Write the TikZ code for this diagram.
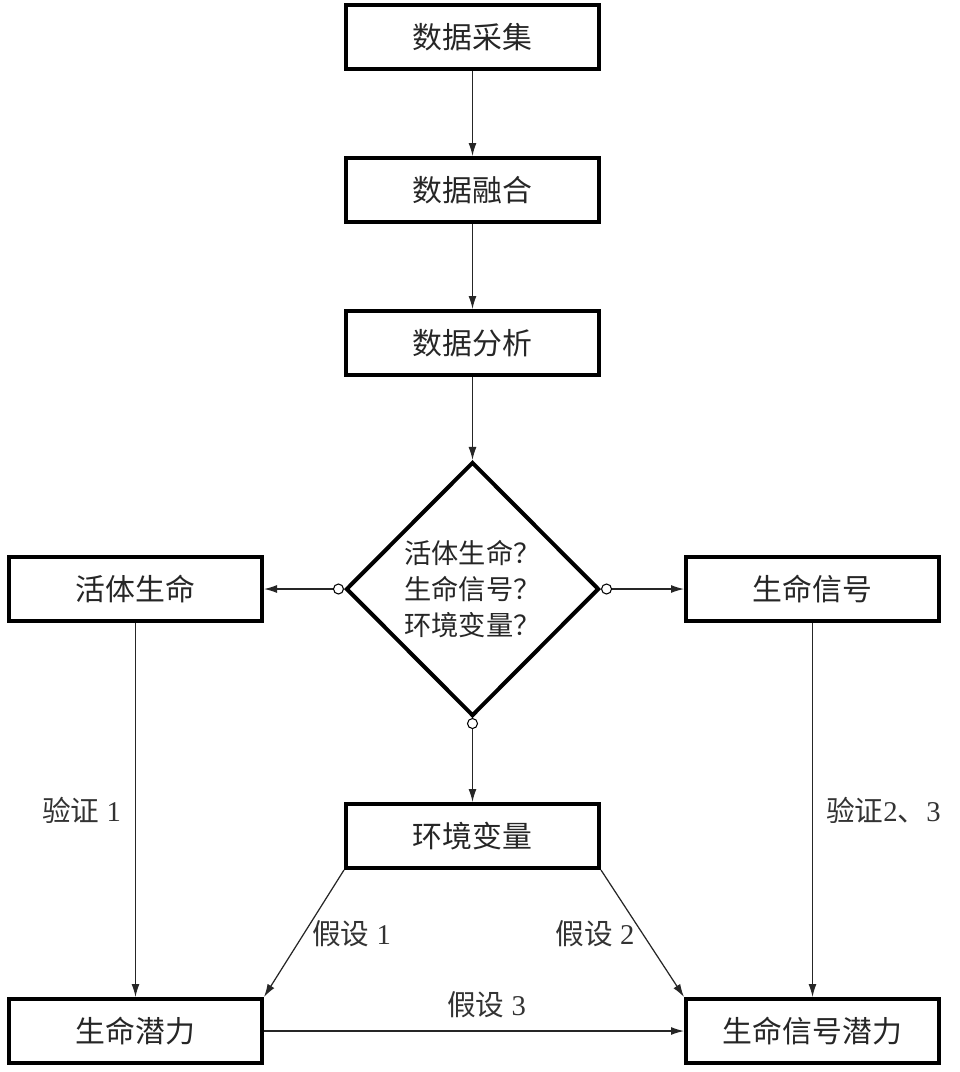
\documentclass[tikz,border=0pt]{standalone}
\usepackage{fontspec}
\setmainfont{Liberation Serif}
\newfontfamily\cjk{Noto Sans CJK SC}
\usetikzlibrary{arrows.meta,positioning,shapes.geometric}

\begin{document}
\begin{tikzpicture}[
  box/.style={draw, line width=0.08cm, minimum width=5.06cm, minimum height=1.28cm, align=center, text=black!85, font=\cjk\fontsize{17}{20}\selectfont},
  test/.style={draw, diamond, aspect=1, line width=0.08cm, minimum width=5.06cm, minimum height=5.08cm, inner sep=0pt, align=center, text=black!85, font=\cjk\fontsize{15.5}{20.5}\selectfont},
  port/.style={draw, circle, fill=white, line width=0.6pt, minimum size=0.2cm, inner sep=0pt},
  arrow/.style={-{Latex[length=0.26cm,width=0.16cm]}, line width=0.7pt, black!85},
  lbl/.style={inner sep=0pt, text=black!80, font=\fontsize{16.3}{18}\selectfont}
]
\useasboundingbox (0,0) rectangle (19.2,-21.44);
\node[box] (collect) at (9.45,-0.74) {数据采集};
\node[box, below=1.7cm of collect] (fuse) {数据融合};
\node[box, below=1.7cm of fuse] (analyse) {数据分析};
\node[test, below=1.66cm of analyse] (dia) {活体生命？\\生命信号？\\环境变量？};
\node[port, left=0pt of dia.west] (pl) {};
\node[port, right=0pt of dia.east] (pr) {};
\node[port, below=0pt of dia.south] (pb) {};
\node[box, left=1.6cm of dia] (live) {活体生命};
\node[box, right=1.66cm of dia] (signal) {生命信号};
\node[box, below=1.68cm of dia] (env) {环境变量};
\node[box, below=7.48cm of live] (potential) {生命潜力};
\node[box, below=7.48cm of signal] (sigpot) {生命信号潜力};
\draw[arrow] (collect) -- (fuse);
\draw[arrow] (fuse) -- (analyse);
\draw[arrow] (analyse) -- (dia);
\draw[arrow] (pl) -- (live);
\draw[arrow] (pr) -- (signal);
\draw[arrow] (pb) -- (env);
\draw[arrow] (live) -- node[lbl, left=0.28cm]{{\cjk 验证} 1} (potential);
\draw[arrow] (signal) -- node[lbl, right=0.26cm]{{\cjk 验证}2{\cjk 、}3} (sigpot);
\draw[arrow] (env.south west) -- node[lbl, right=0.15cm]{{\cjk 假设} 1} (potential.north east);
\draw[arrow] (env.south east) -- node[lbl, left=0.15cm]{{\cjk 假设} 2} (sigpot.north west);
\draw[arrow] (potential) -- node[lbl, above=0.25cm, pos=0.53]{{\cjk 假设} 3} (sigpot);
\end{tikzpicture}
\end{document}
